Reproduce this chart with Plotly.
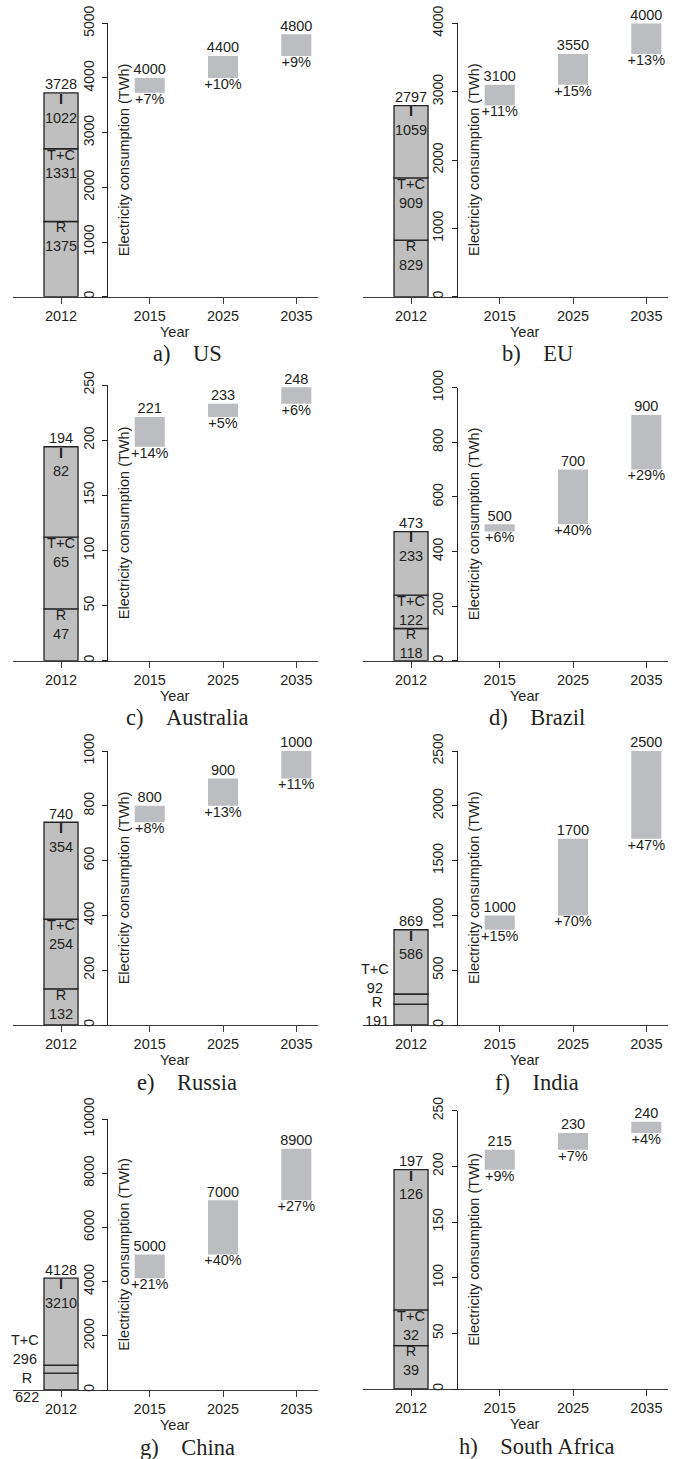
import plotly.graph_objects as go

# ---------------- data ----------------
YEARS = ["2012", "2015", "2025", "2035"]
PANEL_TAGS = ["a)", "b)", "c)", "d)", "e)", "f)", "g)", "h)"]
COUNTRIES = ["US", "EU", "Australia", "Brazil", "Russia", "India", "China", "South Africa"]
R_2012 = [1375, 829, 47, 118, 132, 191, 622, 39]
TC_2012 = [1331, 909, 65, 122, 254, 92, 296, 32]
I_2012 = [1022, 1059, 82, 233, 354, 586, 3210, 126]
TOTAL_2012 = [3728, 2797, 194, 473, 740, 869, 4128, 197]
PROJ_2015 = [4000, 3100, 221, 500, 800, 1000, 5000, 215]
PROJ_2025 = [4400, 3550, 233, 700, 900, 1700, 7000, 230]
PROJ_2035 = [4800, 4000, 248, 900, 1000, 2500, 8900, 240]
GROWTH_2015 = ["+7%", "+11%", "+14%", "+6%", "+8%", "+15%", "+21%", "+9%"]
GROWTH_2025 = ["+10%", "+15%", "+5%", "+40%", "+13%", "+70%", "+40%", "+7%"]
GROWTH_2035 = ["+9%", "+13%", "+6%", "+29%", "+11%", "+47%", "+27%", "+4%"]
Y_MAX = [5000, 4000, 250, 1000, 1000, 2500, 10000, 250]
Y_STEP = [1000, 1000, 50, 200, 200, 500, 2000, 50]
Y_TITLE = "Electricity consumption (TWh)"
X_TITLE = "Year"

# ---------------- layout geometry (pixels) ----------------
W, H = 676, 1459
COL_X = [(13.3, 318.3), (363.3, 668.3)]
YAXIS_PX = [107.3, 457.0]
PANEL_Y = [(23.3, 296.7), (23.3, 296.7), (385.0, 660.7), (387.7, 660.7),
           (751.0, 1025.0), (751.0, 1025.0), (1119.0, 1390.0), (1110.7, 1389.0)]
XPOS = [0.0, 1.21, 2.21, 3.21]
XRANGE = [-0.651, 3.51]
W_HIST = 0.464
W_PROJ = 0.41
OUTSIDE_SHIFT = {5: (3, 21), 6: (-6, 20)}

SANS = "Liberation Sans, Arial, Helvetica, sans-serif"
SERIF = "Liberation Serif, Times New Roman, serif"
TXT = "#231f20"
FILL_HIST = "#bfbfbf"
FILL_PROJ = "#bcbdc0"
FS = 14.5

fig = go.Figure()
layout = dict(width=W, height=H, margin=dict(l=0, r=0, t=0, b=0, autoexpand=False),
              template="none", autosize=False,
              paper_bgcolor="white", plot_bgcolor="rgba(0,0,0,0)",
              barmode="overlay", showlegend=False,
              font=dict(family=SANS, size=FS, color=TXT))
annotations = []

for i in range(8):
    row, col = divmod(i, 2)
    n = i + 1
    xid = "x" if n == 1 else f"x{n}"
    yid = "y" if n == 1 else f"y{n}"
    x0, x1 = COL_X[col]
    top, bot = PANEL_Y[i]
    ydom = [1 - bot / H, 1 - top / H]
    ypos = YAXIS_PX[col] / W
    ticks_y = list(range(0, Y_MAX[i] + 1, Y_STEP[i]))

    layout[f"xaxis{n}"] = dict(
        domain=[x0 / W, x1 / W], range=XRANGE, anchor=yid, automargin=False,
        tickmode="array", tickvals=XPOS, ticktext=YEARS,
        showline=True, linecolor="#3a3a3a", linewidth=1,
        ticks="outside", ticklen=6, tickcolor="#3a3a3a", tickwidth=1,
        ticklabelstandoff=0,
        showgrid=False, zeroline=False, fixedrange=True,
        tickfont=dict(family=SANS, size=FS, color=TXT))
    layout[f"yaxis{n}"] = dict(
        domain=ydom, range=[0, Y_MAX[i]], anchor="free", position=ypos, side="left",
        automargin=False,
        tickmode="array", tickvals=ticks_y, ticktext=[str(t) for t in ticks_y],
        tickangle=-90,
        ticks="outside", ticklen=5, tickcolor="#222", tickwidth=1,
        ticklabelstandoff=3,
        showline=True, linecolor="#222", linewidth=1,
        showgrid=False, zeroline=False, fixedrange=True,
        tickfont=dict(family=SANS, size=14, color=TXT))
    layout[f"yaxis{n + 8}"] = dict(
        domain=ydom, range=[0, Y_MAX[i]], anchor="free", position=ypos, side="right",
        overlaying=yid, automargin=False,
        tickmode="array", tickvals=ticks_y,
        ticks="outside", ticklen=5, tickcolor="#222", tickwidth=1,
        showticklabels=False, showline=False,
        showgrid=False, zeroline=False, fixedrange=True)

    r, tc, ind, tot = R_2012[i], TC_2012[i], I_2012[i], TOTAL_2012[i]
    proj = [PROJ_2015[i], PROJ_2025[i], PROJ_2035[i]]
    bases = [tot] + proj[:2]
    growth = [GROWTH_2015[i], GROWTH_2025[i], GROWTH_2035[i]]

    for val, base in [(r, 0), (tc, r), (ind, r + tc)]:
        fig.add_trace(go.Bar(
            x=[XPOS[0]], y=[val], base=[base], width=[W_HIST],
            marker=dict(color=FILL_HIST, line=dict(color="#222", width=1.3)),
            xaxis=xid, yaxis=yid, hoverinfo="skip"))

    fig.add_trace(go.Bar(
        x=XPOS[1:], y=[p - b for p, b in zip(proj, bases)], base=bases,
        width=[W_PROJ] * 3,
        marker=dict(color=FILL_PROJ, line=dict(width=0)),
        xaxis=xid, yaxis=yid, hoverinfo="skip"))

    # value labels on top of every bar
    fig.add_trace(go.Scatter(
        x=XPOS, y=[tot] + proj, mode="text",
        text=[str(v) for v in [tot] + proj], textposition="top center",
        textfont=dict(family=SANS, size=FS, color=TXT),
        cliponaxis=False, xaxis=xid, yaxis=yid, hoverinfo="skip"))
    # growth labels under projection bars
    fig.add_trace(go.Scatter(
        x=XPOS[1:], y=bases, mode="text", text=growth,
        textposition="bottom center",
        textfont=dict(family=SANS, size=FS, color=TXT),
        cliponaxis=False, xaxis=xid, yaxis=yid, hoverinfo="skip"))

    # segment labels
    seg_px = lambda v: v / Y_MAX[i] * (bot - top)
    small = seg_px(r) < 28 or seg_px(tc) < 28
    if small:
        seg_x, seg_y, seg_t = [XPOS[0]], [tot], [f"<b>I</b><br>{ind}"]
    else:
        seg_x = [XPOS[0]] * 3
        seg_y = [tot, r + tc, r]
        seg_t = [f"<b>I</b><br>{ind}", f"T+C<br>{tc}", f"R<br>{r}"]
    fig.add_trace(go.Scatter(
        x=seg_x, y=seg_y, mode="text", text=seg_t, textposition="bottom center",
        textfont=dict(family=SANS, size=FS, color=TXT),
        cliponaxis=False, xaxis=xid, yaxis=yid, hoverinfo="skip"))
    if small:
        sr, stc = OUTSIDE_SHIFT.get(i, (0, 20))
        for txt, yc, sh in [(f"R<br>{r}", r / 2, sr), (f"T+C<br>{tc}", r + tc / 2, stc)]:
            annotations.append(dict(
                x=XPOS[0] - W_HIST / 2, y=yc, xref=xid, yref=yid,
                text=txt, showarrow=False, xanchor="right", yanchor="middle",
                xshift=-3, yshift=sh, font=dict(family=SANS, size=FS, color=TXT)))

    # y-axis title (right of the axis line), "Year" and panel caption
    off = (x0 - COL_X[0][0])
    annotations.append(dict(
        x=(YAXIS_PX[col] + 17) / W, y=(ydom[0] + ydom[1]) / 2, xref="paper", yref="paper",
        text=Y_TITLE, textangle=-90, showarrow=False, xanchor="center", yanchor="middle",
        font=dict(family=SANS, size=FS, color=TXT)))
    annotations.append(dict(
        x=(174.7 + off) / W, y=1 - (bot + 35) / H, xref="paper", yref="paper",
        text=X_TITLE, showarrow=False, xanchor="center", yanchor="middle",
        font=dict(family=SANS, size=FS, color=TXT)))
    annotations.append(dict(
        x=(187.0 + off) / W, y=1 - (bot + 57) / H, xref="paper", yref="paper",
        text=PANEL_TAGS[i] + "\u00a0\u00a0\u00a0\u00a0" + COUNTRIES[i], showarrow=False,
        xanchor="center", yanchor="middle",
        font=dict(family=SERIF, size=22.5, color=TXT)))

layout["annotations"] = annotations
fig.update_layout(**layout)
fig.write_html("out.html", config={"displayModeBar": False},
               post_script="document.body.style.margin='0';")
